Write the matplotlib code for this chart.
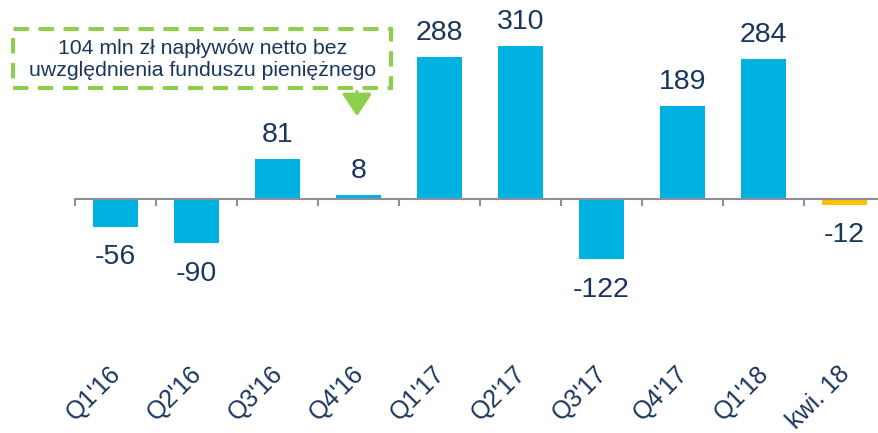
import numpy as np
import matplotlib.pyplot as plt
from matplotlib.patches import Rectangle, FancyArrowPatch
from matplotlib.transforms import ScaledTranslation

plt.rcParams['font.family'] = ['Liberation Sans', 'DejaVu Sans']

categories = ["Q1'16", "Q2'16", "Q3'16", "Q4'16", "Q1'17", "Q2'17", "Q3'17", "Q4'17", "Q1'18", "kwi. 18"]
values = [-56, -90, 81, 8, 288, 310, -122, 189, 284, -12]
colors = ['#00B2E2'] * 9 + ['#FFC000']
note = "104 mln zł napływów netto bez\nuwzględnienia funduszu pieniężnego"

navy = '#1B365D'
green = '#8DCF4A'
W, H = 879, 433

fig = plt.figure(figsize=(W / 100, H / 100), dpi=100)
# axes: x -0.5 at 75 px, 81 px per category; y 0 at 199 px, 0.494 px per unit
ax = fig.add_axes([75 / W, 1 - 322.5 / H, 810 / W, 650 * 0.494 / H])
x = np.arange(len(categories))
ax.bar(x, values, width=0.55, color=colors, zorder=2)
ax.set_xlim(-0.5, 9.5)
ax.set_ylim(-250, 400)

for xi, v in zip(x, values):
    off = 17 if v >= 0 else -22
    ax.annotate(str(v), (xi, v), xytext=(0, off), textcoords='offset points',
                ha='center', va='center', fontsize=20.5, color=navy)

for s in ['top', 'right', 'left']:
    ax.spines[s].set_visible(False)
ax.spines['bottom'].set_position(('data', 0))
ax.spines['bottom'].set_color('#8C8F99')
ax.spines['bottom'].set_linewidth(1.5)
ax.set_yticks([])
ax.set_xticks(x)
ax.set_xticklabels(categories, rotation=45, ha='right', fontsize=18, color=navy)
ax.tick_params(axis='x', which='major', length=0, pad=117)
shift = ScaledTranslation(10 / 100, 0, fig.dpi_scale_trans)
for lbl in ax.get_xticklabels():
    lbl.set_transform(lbl.get_transform() + shift)
ax.set_xticks(np.arange(-0.5, 10, 1), minor=True)
ax.tick_params(axis='x', which='minor', length=5, width=1.5, color='#8C8F99')


# annotation box (pixel positions)
def fx(px):
    return px / W


def fy(py):
    return 1 - py / H


fig.patches.append(Rectangle((fx(13), fy(88)), fx(391) - fx(13), fy(29) - fy(88),
                             transform=fig.transFigure, fill=False, ec=green,
                             lw=2.9, ls=(0, (3.8, 2.4))))
fig.text(fx(203), fy(60), note, ha='center', va='center', fontsize=15.3,
         color=navy, linespacing=1.2)
fig.patches.append(FancyArrowPatch(
    (fx(357), fy(89)), (fx(357), fy(119)), transform=fig.transFigure,
    arrowstyle='-|>,head_length=9,head_width=6', color=green, lw=2.5,
    mutation_scale=1.5))

fig.savefig('out.png', dpi=100)
